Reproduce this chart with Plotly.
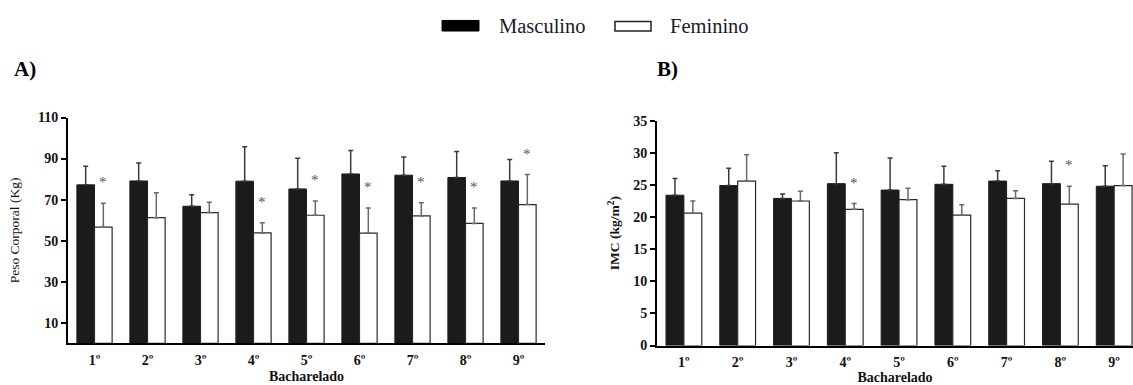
import plotly.graph_objects as go

W, H = 1133, 385

categories = ["1º", "2º", "3º", "4º", "5º", "6º", "7º", "8º", "9º"]

# Panel A - Peso corporal (kg): mean and upper SD
masc_peso = [77.2, 79.1, 66.8, 79.0, 75.2, 82.5, 81.9, 80.8, 79.1]
masc_peso_sd = [9.1, 8.7, 5.6, 16.8, 15.0, 11.4, 8.9, 12.7, 10.5]
fem_peso = [56.6, 61.2, 63.7, 53.8, 62.4, 53.7, 62.1, 58.4, 67.6]
fem_peso_sd = [11.6, 12.1, 5.0, 4.9, 7.0, 12.2, 6.4, 7.5, 14.6]
sig_peso = [True, False, False, True, True, True, True, True, True]

# Panel B - IMC (kg/m2): mean and upper SD
masc_imc = [23.4, 24.9, 22.9, 25.2, 24.2, 25.1, 25.6, 25.2, 24.8]
masc_imc_sd = [2.6, 2.7, 0.7, 4.8, 5.0, 2.8, 1.6, 3.5, 3.2]
fem_imc = [20.6, 25.6, 22.5, 21.2, 22.7, 20.3, 22.9, 22.0, 24.9]
fem_imc_sd = [1.9, 4.1, 1.5, 0.9, 1.8, 1.6, 1.2, 2.8, 4.9]
sig_imc = [False, False, False, True, False, False, False, True, False]

series_names = ["Masculino", "Feminino"]

SERIF = "Liberation Serif, Times New Roman, serif"
BLACK = "#1b1b1b"


def px(x):
    return x / W


def py(y):
    return 1 - y / H


fig = go.Figure()


def add_panel(xa, ya, m, msd, f, fsd):
    fig.add_trace(go.Bar(
        x=categories, y=m, name=series_names[0], xaxis=xa, yaxis=ya,
        marker=dict(color=BLACK, line=dict(color=BLACK, width=1)),
        error_y=dict(type="data", symmetric=False, array=msd,
                     arrayminus=[0] * len(msd), color="#3a3a3a",
                     thickness=1.5, width=2.5),
        showlegend=False,
    ))
    fig.add_trace(go.Bar(
        x=categories, y=f, name=series_names[1], xaxis=xa, yaxis=ya,
        marker=dict(color="white", line=dict(color="#2a2a2a", width=1.2)),
        error_y=dict(type="data", symmetric=False, array=fsd,
                     arrayminus=[0] * len(fsd), color="#6a6a6a",
                     thickness=1.5, width=2.5),
        showlegend=False,
    ))


add_panel("x", "y", masc_peso, masc_peso_sd, fem_peso, fem_peso_sd)
add_panel("x2", "y2", masc_imc, masc_imc_sd, fem_imc, fem_imc_sd)

tickfont = dict(family=SERIF, size=14, color="#111", weight="bold")

common_x = dict(type="category", showline=True, linecolor="black", linewidth=2,
                ticks="", showgrid=False, zeroline=False, tickfont=tickfont,
                ticklabelstandoff=3)
common_y = dict(showline=True, linecolor="black", linewidth=2, ticks="outside",
                ticklen=5, tickwidth=1.5, tickcolor="black", showgrid=False,
                zeroline=False, tickfont=tickfont)

fig.update_layout(
    width=W, height=H,
    margin=dict(l=0, r=0, t=0, b=0),
    paper_bgcolor="white", plot_bgcolor="white",
    barmode="group", bargap=0.335, bargroupgap=0,
    xaxis=dict(common_x, domain=[px(68), px(545)], range=[-0.5, 8.5], anchor="y",
               title=dict(text="Bacharelado", standoff=4,
                          font=dict(family=SERIF, size=14, color="#111", weight="bold"))),
    yaxis=dict(common_y, domain=[py(350), py(115)], range=[0, 110], anchor="x",
               tickvals=[10, 30, 50, 70, 90, 110],
               title=dict(text="Peso Corporal (Kg)", standoff=15,
                          font=dict(family=SERIF, size=13.5, color="#111"))),
    xaxis2=dict(common_x, domain=[px(657), 1.0], range=[-0.5, 8.35], anchor="y2",
                title=dict(text="Bacharelado", standoff=3,
                           font=dict(family=SERIF, size=14, color="#111", weight="bold"))),
    yaxis2=dict(common_y, domain=[py(352.3), py(118.3)], range=[0, 35], anchor="x2",
                tickvals=[0, 5, 10, 15, 20, 25, 30, 35],
                title=dict(text="IMC (kg/m<sup>2</sup>)", standoff=10,
                           font=dict(family=SERIF, size=13.5, color="#111", weight="bold"))),
    showlegend=False,
)

annotations = []


def add_stars(xref, yref, f, fsd, sig, offset_px):
    for cat, v, s, flag in zip(categories, f, fsd, sig):
        if flag:
            annotations.append(dict(
                x=cat, y=v + s, xref=xref, yref=yref, text="*", showarrow=False,
                xshift=offset_px, yshift=11, xanchor="center", yanchor="bottom",
                font=dict(family=SERIF, size=15, color="#555"),
            ))


add_stars("x", "y", fem_peso, fem_peso_sd, sig_peso, 8.8)
add_stars("x2", "y2", fem_imc, fem_imc_sd, sig_imc, 8.9)

# panel letters
annotations.append(dict(x=px(25), y=py(65), xref="paper", yref="paper", text="A)",
                        xanchor="center", yanchor="middle", showarrow=False,
                        font=dict(family=SERIF, size=21, color="black", weight="bold")))
annotations.append(dict(x=px(667), y=py(65), xref="paper", yref="paper", text="B)",
                        xanchor="center", yanchor="middle", showarrow=False,
                        font=dict(family=SERIF, size=21, color="black", weight="bold")))

# custom legend
annotations.append(dict(x=px(497), y=py(19.5), xref="paper", yref="paper", text=series_names[0],
                        xanchor="left", yanchor="middle", showarrow=False,
                        font=dict(family=SERIF, size=20.5, color="#1a1a2a")))
annotations.append(dict(x=px(668), y=py(19.5), xref="paper", yref="paper", text=series_names[1],
                        xanchor="left", yanchor="middle", showarrow=False,
                        font=dict(family=SERIF, size=20.5, color="#1a1a2a")))

shapes = [
    dict(type="rect", xref="paper", yref="paper", x0=px(442), x1=px(479), y0=py(25), y1=py(14),
         fillcolor="black", line=dict(color="black", width=1)),
    dict(type="rect", xref="paper", yref="paper", x0=px(615), x1=px(651), y0=py(25), y1=py(15),
         fillcolor="white", line=dict(color="#222", width=1.5)),
]

fig.update_layout(annotations=annotations, shapes=shapes)

fig.write_html(
    "out.html",
    config={"displayModeBar": False},
    post_script="document.body.style.margin='0';document.body.style.overflow='hidden';",
)
